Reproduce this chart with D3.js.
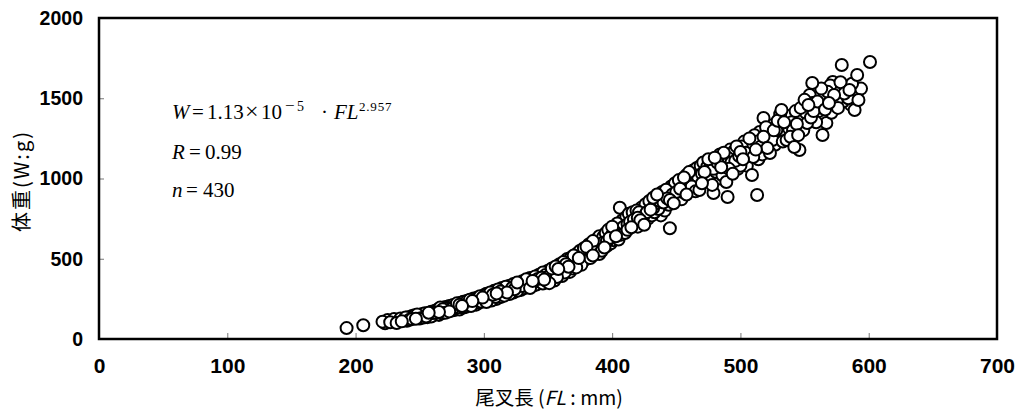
<!DOCTYPE html>
<html><head><meta charset="utf-8">
<script src="https://cdn.jsdelivr.net/npm/d3@7"></script>
<style>
html,body{margin:0;padding:0;background:#fff;}
svg{display:block;}
</style></head>
<body>
<svg id="chart" width="1018" height="412"></svg>
<script>
// ---- data (fork length FL in mm, body weight W in g) ----
const xTicks = [0,100,200,300,400,500,600,700];
const yTicks = [0,500,1000,1500,2000];
const xTitle = ["尾叉長 (", "FL", " : mm)"];
const yTitle = "体重(W:g)";
const points = [
[193,68],[206,86],[221,108],[223,98],[225,118],[227,104],[229,112],[230,124],[232,100],[233,116],[235,128],[236,110],[238,122],[239,134],[240,114],
[241,136],[242,120],[243,130],[244,144],[244,124],[245,132],[246,148],[247,126],[248,140],[248,152],[249,132],[250,146],[250,128],[251,138],[252,156],[253,134],[253,146],[254,160],[255,140],[256,152],[256,136],[257,164],[258,148],[259,140],[259,170],[260,154],[260,162],
[261,150],[262,176],[262,164],[263,158],[264,184],[265,168],[265,150],[266,196],[267,176],[267,160],[268,186],[269,170],[270,200],[270,164],[271,184],[272,192],[273,172],[273,206],[274,188],[275,178],[276,212],[276,194],[277,180],[278,204],[279,222],[279,190],[280,198],[281,214],[281,184],[282,226],[283,206],[284,196],[284,232],[285,214],[286,200],[287,238],[287,220],[288,210],[289,244],[289,226],[290,206],[291,236],[292,218],[292,252],[293,230],[294,214],[295,258],[295,240],[296,226],[297,266],[298,244],[298,232],[299,258],[300,240],[300,272],
[301,250],[302,282],[302,230],[303,264],[304,246],[305,290],[306,258],[306,240],[307,276],[308,300],[309,262],[310,284],[310,250],[311,308],[312,276],[313,262],[313,296],[314,318],[315,284],[316,270],[316,302],[317,326],[318,290],[319,312],[320,280],[320,332],[321,300],[322,318],[323,290],[323,342],[324,310],[325,326],[326,300],[326,352],[327,322],[328,338],[329,306],[330,360],[330,330],[331,316],[332,346],[333,372],[334,330],[335,352],[336,318],[336,380],[337,344],[338,362],[339,334],[340,390],[340,356],
[341,340],[342,374],[343,400],[344,356],[345,382],[346,414],[346,346],[347,370],[348,398],[349,360],[350,426],[350,388],[351,348],[352,410],[353,376],[353,440],[354,396],[355,364],[356,452],[356,420],[357,386],[358,436],[359,400],[359,466],[360,430],[361,392],[362,480],[362,448],[363,414],[364,466],[365,430],[365,498],[366,450],[367,418],[368,508],[368,476],[369,440],[370,520],[370,466],[371,490],[372,446],[373,534],[374,478],[374,504],[375,550],[376,462],[377,518],[378,490],[378,566],[379,540],[380,500],[380,574],
[381,528],[382,590],[383,504],[384,556],[385,610],[385,520],[386,574],[387,540],[388,622],[389,566],[390,530],[390,640],[391,590],[392,550],[393,636],[393,600],[394,570],[395,660],[396,610],[396,580],[397,680],[398,630],[399,596],[400,650],[400,700],[401,616],[402,668],[403,640],[404,720],[405,620],[406,818],[406,684],[407,650],[408,740],[409,700],[410,660],[411,760],[412,716],[412,680],[413,780],[414,730],[415,696],[416,790],[417,744],[418,710],[419,800],[420,756],[420,700],
[421,790],[422,740],[423,820],[424,760],[425,712],[426,840],[427,790],[428,750],[429,860],[430,806],[431,770],[432,816],[432,880],[433,790],[434,846],[435,900],[436,810],[437,860],[438,770],[439,916],[440,850],[441,800],[442,930],[443,876],[444,836],[445,690],[445,866],[446,950],[447,900],[448,846],[449,970],[450,916],[451,880],[452,990],[453,936],[454,870],[455,916],[456,1006],[457,950],[458,1022],[458,900],[459,976],[460,1040],[460,930],
[461,1000],[462,950],[463,1050],[464,990],[465,920],[466,1065],[467,1010],[468,928],[469,1080],[470,1030],[470,970],[471,1100],[472,1040],[473,990],[474,1072],[475,1120],[476,1020],[477,1090],[478,960],[479,910],[479,1060],[480,1130],[481,1040],[482,1100],[483,1000],[484,1150],[485,1070],[486,1103],[486,1020],[487,1160],[488,1090],[489,978],[490,885],[490,1130],[491,1060],[492,1180],[493,1100],[494,1030],[495,1170],[496,1110],[497,1200],[498,1060],[499,1140],[500,1165],[500,1080],
[501,1200],[502,1120],[503,1230],[504,1160],[505,1080],[506,1196],[507,1250],[508,1140],[509,1022],[510,1134],[510,1210],[511,1270],[512,1180],[513,897],[513,1230],[514,1120],[515,1290],[516,1200],[517,1150],[518,1377],[518,1260],[519,1240],[520,1320],[521,1190],[522,1280],[523,1159],[524,1330],[525,1240],[526,1300],[527,1210],[528,1302],[529,1360],[530,1250],[531,1400],[532,1427],[532,1290],[533,1230],[534,1350],[535,1270],[536,1240],[537,1390],[538,1310],[539,1260],[540,1350],
[541,1302],[542,1196],[543,1420],[544,1340],[545,1270],[546,1178],[547,1440],[548,1380],[549,1300],[550,1490],[551,1410],[552,1346],[553,1458],[554,1520],[555,1380],[556,1595],[556,1470],[557,1420],[558,1540],[559,1350],[560,1480],[561,1420],[562,1470],[563,1560],[564,1271],[565,1500],[566,1430],[567,1346],[568,1540],[569,1470],[570,1580],[571,1410],[572,1601],[572,1458],[573,1520],[574,1551],[575,1480],[576,1440],[577,1540],[578,1600],[579,1707],[580,1480],[581,1530],[582,1560],[584,1500],[585,1551],[586,1460],[587,1590],[589,1427],[590,1520],[591,1645],[592,1489],[594,1560],[601,1726]
];

// ---- layout ----
const svg = d3.select("#chart");
const plotL = 99, plotR = 997, plotT = 18, plotB = 339;
const x = d3.scaleLinear().domain([0,700]).range([plotL,plotR]);
const y = d3.scaleLinear().domain([0,2000]).range([plotB,plotT]);

// points (drawn in an interleaved order so overlaps look like a field-data plot)
const nPts = points.length;
const drawOrder = d3.range(nPts).sort((a, b) => ((a * 157) % nPts) - ((b * 157) % nPts));
svg.append("g").selectAll("circle").data(drawOrder.map(i => points[i])).join("circle")
  .attr("cx", d => x(d[0])).attr("cy", d => y(d[1])).attr("r", 6)
  .attr("fill", "#fff").attr("stroke", "#000").attr("stroke-width", 2);

// x axis
const gx = svg.append("g").attr("transform", `translate(0,${plotB})`)
  .call(d3.axisBottom(x).tickValues(xTicks).tickSizeInner(-6).tickSizeOuter(0).tickPadding(19).tickFormat(d3.format("d")));
gx.select(".domain").remove();
gx.selectAll(".tick line").attr("stroke", "#777").attr("stroke-width", 1);
gx.selectAll(".tick text").attr("font-family", "'Liberation Sans Narrow', 'Liberation Sans', sans-serif")
  .attr("font-weight", "bold").attr("font-size", 21).attr("fill", "#000");
gx.selectAll(".tick").filter(d => d === 0 || d === 700).select("line").remove();

// y axis
const gy = svg.append("g").attr("transform", `translate(${plotL},0)`)
  .call(d3.axisLeft(y).tickValues(yTicks).tickSizeInner(-5).tickSizeOuter(0).tickPadding(16).tickFormat(d3.format("d")));
gy.select(".domain").remove();
gy.selectAll(".tick line").attr("stroke", "#777").attr("stroke-width", 1);
gy.selectAll(".tick text").attr("font-family", "'Liberation Sans', Arial, sans-serif")
  .attr("font-weight", "bold").attr("font-size", 19.5).attr("fill", "#000");
gy.selectAll(".tick").filter(d => d === 0 || d === 2000).select("line").remove();

// frame
svg.append("rect").attr("x", plotL).attr("y", plotT).attr("width", plotR-plotL).attr("height", plotB-plotT)
  .attr("fill", "none").attr("stroke", "#000").attr("stroke-width", 2.5);

// equation text
const serif = "'Liberation Serif', 'Times New Roman', serif";
const eq = svg.append("text").attr("y", 119).attr("font-family", serif).attr("font-size", 21).attr("fill", "#000");
eq.append("tspan").attr("x", 172).attr("font-style", "italic").text("W");
eq.append("tspan").attr("x", 192).text("=");
eq.append("tspan").attr("x", 207).text("1.13");
eq.append("tspan").attr("x", 245).attr("font-size", 24).text("×");
eq.append("tspan").attr("x", 261).text("10");
eq.append("tspan").attr("x", 285).attr("font-size", 17).attr("dy", -8).text("−");
eq.append("tspan").attr("x", 297).attr("font-size", 14).text("5");
eq.append("tspan").attr("x", 321).attr("dy", 8).text("·");
eq.append("tspan").attr("x", 334).attr("font-style", "italic").text("FL");
eq.append("tspan").attr("x", 359).attr("font-size", 13).attr("letter-spacing", 0.8).attr("dy", -8).text("2.957");

const rt = svg.append("text").attr("y", 159).attr("font-family", serif).attr("font-size", 21);
rt.append("tspan").attr("x", 172).attr("font-style", "italic").text("R");
rt.append("tspan").attr("x", 189).text("=");
rt.append("tspan").attr("x", 205).text("0.99");
const nt = svg.append("text").attr("y", 197).attr("font-family", serif).attr("font-size", 21);
nt.append("tspan").attr("x", 172).attr("font-style", "italic").text("n");
nt.append("tspan").attr("x", 186).text("=");
nt.append("tspan").attr("x", 203).text("430");

// axis titles
const jp = "'Noto Sans CJK JP', 'Noto Sans', sans-serif";
const xt = svg.append("text").attr("x", 549).attr("y", 405).attr("text-anchor", "middle")
  .attr("font-family", jp).attr("font-size", 19.5).attr("fill", "#000");
xt.append("tspan").text(xTitle[0]);
xt.append("tspan").attr("font-style", "italic").text(xTitle[1]);
xt.append("tspan").text(xTitle[2]);

svg.append("text").attr("transform", "translate(29,181) rotate(-90)").attr("text-anchor", "middle")
  .attr("font-family", jp).attr("font-size", 20).attr("letter-spacing", 2).attr("fill", "#000").text(yTitle);
</script>
</body></html>
